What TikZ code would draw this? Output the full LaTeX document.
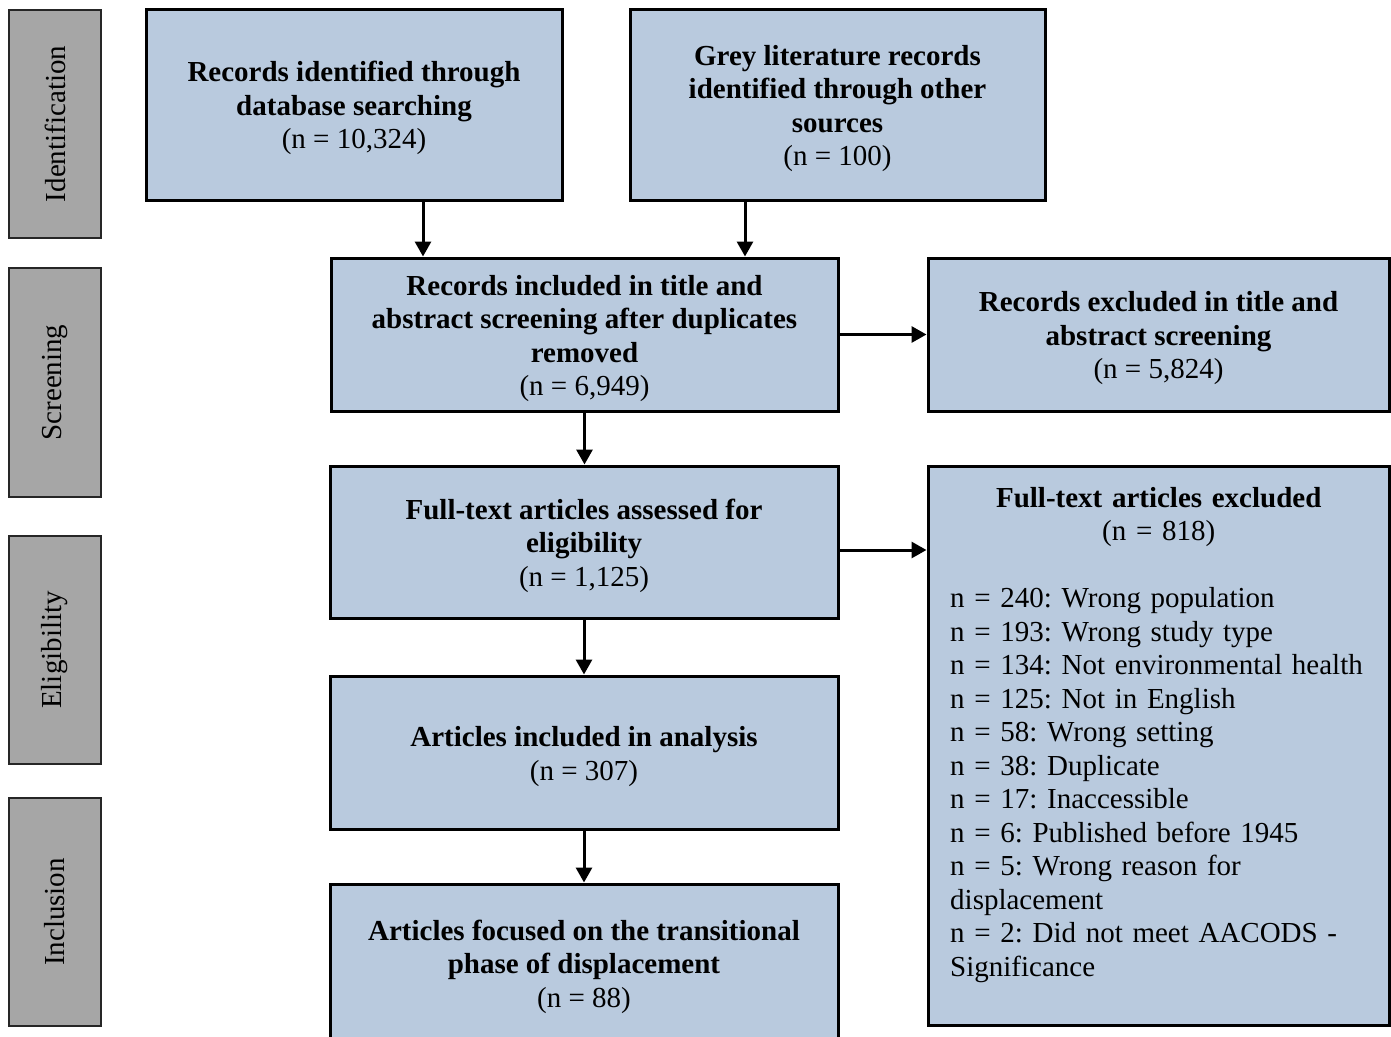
\documentclass[tikz,border=0pt]{standalone}
\usepackage{fontspec}
\setmainfont{Liberation Serif}
\usetikzlibrary{arrows.meta,calc}
\definecolor{boxblue}{RGB}{185,202,222}
\definecolor{sidegrey}{RGB}{166,166,166}
\newcommand{\bodyfont}{\fontsize{29}{33.5}\selectfont\frenchspacing}
\newcommand{\tstrut}{\rule{0pt}{28pt}}
\begin{document}
\begin{tikzpicture}[x=1pt,y=-1pt,
  flowbox/.style={draw=black, line width=3pt, fill=boxblue, align=center, font=\bodyfont, inner sep=0pt},
  sidebox/.style={draw=black!85, line width=2pt, fill=sidegrey, font=\bodyfont, rotate=90, inner sep=0pt, minimum height=92pt},
  arr/.style={line width=3pt, -{Triangle[length=15pt,width=16pt]}}]
\clip (0,0) rectangle (1391,1036);
\fill[white] (0,0) rectangle (1391,1036);
% side labels
\node[sidebox, minimum width=228pt] (sid) at (55,124) {Identification};
\node[sidebox, minimum width=229pt] (ssc) at (55,382.5) {Screening};
\node[sidebox, minimum width=228pt] (sel) at (55,650) {Eligibility};
\node[sidebox, minimum width=228pt] (sin) at (55,912) {Inclusion};
% main boxes
\node[flowbox, minimum width=416pt, minimum height=191pt] (b1) at (354,104.5)
  {\tstrut\textbf{Records identified through}\\\textbf{database searching}\\(n = 10,324)};
\node[flowbox, minimum width=415pt, minimum height=191pt] (b2) at (837.5,104.5)
  {\tstrut\textbf{Grey literature records}\\\textbf{identified through other}\\\textbf{sources}\\(n = 100)};
\node[flowbox, minimum width=507pt, minimum height=153pt] (b3) at (584.5,334.5)
  {\tstrut\textbf{Records included in title and}\\\textbf{abstract screening after duplicates}\\\textbf{removed}\\(n = 6,949)};
\node[flowbox, minimum width=461pt, minimum height=153pt] (b4) at (1158.5,334.5)
  {\tstrut\textbf{Records excluded in title and}\\\textbf{abstract screening}\\(n = 5,824)};
\node[flowbox, minimum width=508pt, minimum height=152pt] (b5) at (584,542)
  {\tstrut\textbf{Full-text articles assessed for}\\\textbf{eligibility}\\(n = 1,125)};
\node[flowbox, minimum width=461pt, minimum height=559pt] (b6) at (1158.5,745.5) {};
\node[anchor=north west, text width=417pt, align=left, inner sep=0pt, font=\bodyfont] (b6t) at (950,487)
  {{\centering\textbf{Full-text articles excluded}\\(n = 818)\par}\vspace{\baselineskip}%
   n = 240: Wrong population\\
   n = 193: Wrong study type\\
   n = 134: Not environmental health\\
   n = 125: Not in English\\
   n = 58: Wrong setting\\
   n = 38: Duplicate\\
   n = 17: Inaccessible\\
   n = 6: Published before 1945\\
   n = 5: Wrong reason for\\
   displacement\\
   n = 2: Did not meet AACODS -\\
   Significance};
\node[flowbox, minimum width=508pt, minimum height=153pt] (b7) at (584,752.5)
  {\tstrut\textbf{Articles included in analysis}\\(n = 307)};
\node[flowbox, minimum width=508pt, minimum height=158pt] (b8) at (584,963)
  {\tstrut\textbf{Articles focused on the transitional}\\\textbf{phase of displacement}\\(n = 88)};
% connectors
\coordinate (a1) at (423,0);
\coordinate (a2) at (745,0);
\coordinate (a5) at (0,550);
\draw[arr] (b1.south -| a1) -- (b3.north -| a1);
\draw[arr] (b2.south -| a2) -- (b3.north -| a2);
\draw[arr] (b3.east) -- (b4.west);
\draw[arr] (b3.south) -- (b3.south |- b5.north);
\draw[arr] (b5.east |- a5) -- (b6.west |- a5);
\draw[arr] (b5.south) -- (b5.south |- b7.north);
\draw[arr] (b7.south) -- (b7.south |- b8.north);
\end{tikzpicture}
\end{document}
